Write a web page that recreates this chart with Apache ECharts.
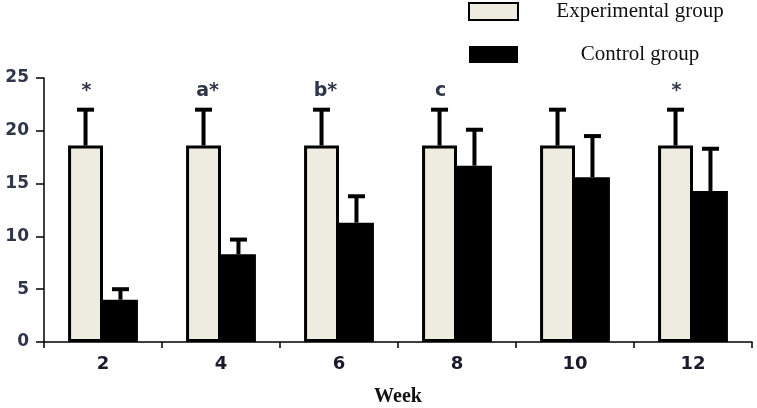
<!DOCTYPE html>
<html>
<head>
<meta charset="utf-8">
<script src="https://cdn.jsdelivr.net/npm/echarts@6/dist/echarts.min.js"></script>
<style>
  html, body { margin: 0; padding: 0; background: #fff; }
  #chart { width: 757px; height: 408px; }
</style>
</head>
<body>
<div id="chart"></div>
<script>
const weeks = ["2", "4", "6", "8", "10", "12"];
const expMean = [18.6, 18.6, 18.6, 18.6, 18.6, 18.6];
const expSd = [3.4, 3.4, 3.4, 3.4, 3.4, 3.4];
const ctrlMean = [4.0, 8.3, 11.3, 16.7, 15.6, 14.3];
const ctrlSd = [1.0, 1.4, 2.5, 3.4, 3.9, 4.0];
const marks = ["*", "a*", "b*", "c", "", "*"];

const BAR_FRAC = 0.296;

function errorItem(means, sds, side, withMarks) {
  return function (params, api) {
    const i = api.value(0);
    const band = api.size([1, 0])[0];
    const bw = band * BAR_FRAC;
    const base = api.coord([i, means[i]]);
    const top = api.coord([i, means[i] + sds[i]]);
    const x = base[0] + side * bw / 2;
    const half = 8.5;
    const children = [
      { type: "line", shape: { x1: x, y1: base[1], x2: x, y2: top[1] },
        style: { stroke: "#000", lineWidth: 4 } },
      { type: "line", shape: { x1: x - half, y1: top[1], x2: x + half, y2: top[1] },
        style: { stroke: "#000", lineWidth: 4 } }
    ];
    if (withMarks && marks[i]) {
      children.push({
        type: "text",
        style: {
          text: marks[i], x: x + (marks[i].length > 1 ? 4 : 1), y: top[1] - 9,
          align: "center", verticalAlign: "bottom",
          fill: "#30364a", font: "bold 19px 'DejaVu Sans'"
        }
      });
    }
    return { type: "group", children: children };
  };
}

const chart = echarts.init(document.getElementById("chart"), null, { renderer: "canvas" });
chart.setOption({
  animation: false,
  grid: { left: 44, right: 5, top: 78, bottom: 66, outerBoundsMode: "none" },
  legend: {
    orient: "vertical",
    left: 463, top: -4,
    itemWidth: 49, itemHeight: 17, itemGap: 22,
    icon: "rect",
    data: ["Experimental group", "Control group"],
    formatter: "{c|{name}}",
    textStyle: {
      rich: { c: { width: 234, align: "center", lineHeight: 17, fontFamily: "Liberation Serif", fontSize: 21, color: "#111" } }
    }
  },
  xAxis: {
    type: "category",
    data: weeks,
    name: "Week",
    nameLocation: "middle",
    nameGap: 45,
    nameTextStyle: { fontFamily: "Liberation Serif", fontWeight: "bold", fontSize: 20, color: "#111" },
    axisLine: { lineStyle: { color: "#000", width: 1.5 } },
    axisTick: { show: true, length: 6, lineStyle: { color: "#000", width: 1.5 } },
    axisLabel: { margin: 13, fontFamily: "DejaVu Sans", fontWeight: "bold", fontSize: 18, color: "#1a1a2a" }
  },
  yAxis: {
    type: "value",
    min: 0, max: 25, interval: 5,
    splitLine: { show: false },
    axisLine: { show: true, lineStyle: { color: "#000", width: 1.5 } },
    axisTick: { show: true, length: 8, lineStyle: { color: "#000", width: 1.5 } },
    axisLabel: { margin: 15, fontFamily: "DejaVu Sans", fontWeight: "bold", fontSize: 17, color: "#30364a" }
  },
  series: [
    {
      name: "Experimental group", type: "bar", data: expMean,
      barWidth: (BAR_FRAC * 100) + "%", barGap: "0%",
      itemStyle: { color: "#eeebe0", borderColor: "#000", borderWidth: 3 }
    },
    {
      name: "Control group", type: "bar", data: ctrlMean,
      barWidth: (BAR_FRAC * 100) + "%",
      itemStyle: { color: "#000", borderColor: "#000", borderWidth: 0 }
    },
    {
      type: "custom", renderItem: errorItem(expMean, expSd, -1, true),
      data: weeks.map((w, i) => [i]), z: 5, silent: true
    },
    {
      type: "custom", renderItem: errorItem(ctrlMean, ctrlSd, 1, false),
      data: weeks.map((w, i) => [i]), z: 5, silent: true
    }
  ]
});
</script>
</body>
</html>
